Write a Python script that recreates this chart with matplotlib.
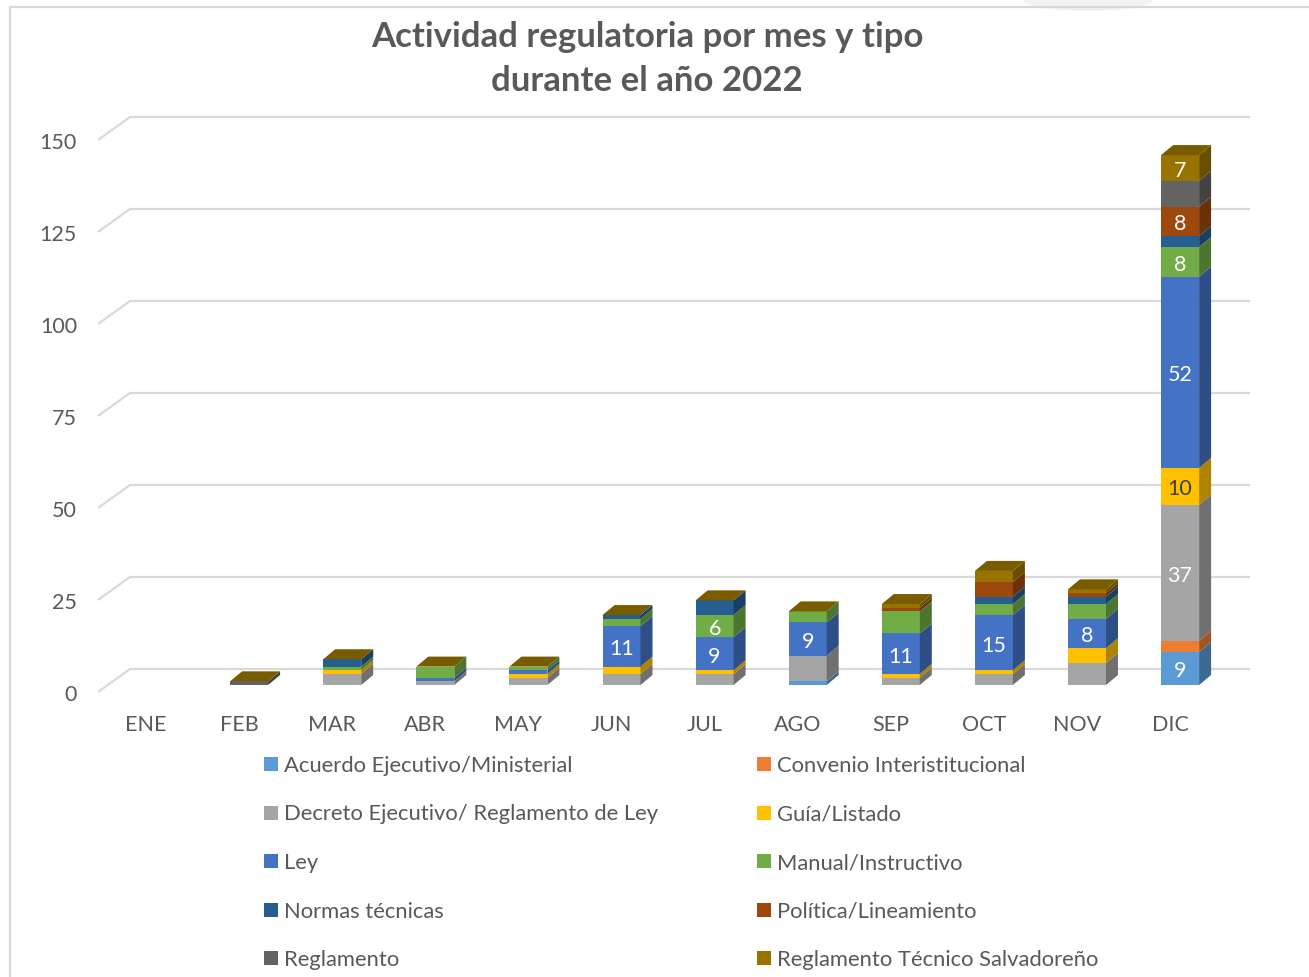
import numpy as np
import matplotlib.pyplot as plt
from matplotlib.patches import Polygon, Rectangle, Ellipse
from matplotlib.lines import Line2D
from matplotlib.colors import to_rgb

plt.rcParams['font.family'] = ['Lato', 'DejaVu Sans']

meses = ['ENE', 'FEB', 'MAR', 'ABR', 'MAY', 'JUN', 'JUL', 'AGO', 'SEP', 'OCT', 'NOV', 'DIC']

# valores por tipo
acuerdo    = [0, 0, 0, 0, 0, 0, 0, 1, 0, 0, 0, 9]
convenio   = [0, 0, 0, 0, 0, 0, 0, 0, 0, 0, 0, 3]
decreto    = [0, 0, 3, 1, 2, 3, 3, 7, 2, 3, 6, 37]
guia       = [0, 0, 1, 0, 1, 2, 1, 0, 1, 1, 4, 10]
ley        = [0, 0, 0, 1, 1, 11, 9, 9, 11, 15, 8, 52]
manual     = [0, 0, 1, 3, 1, 2, 6, 3, 6, 3, 4, 8]
normas     = [0, 0, 2, 0, 0, 1, 4, 0, 0, 2, 2, 3]
politica   = [0, 0, 0, 0, 0, 0, 0, 0, 1, 4, 1, 8]
reglamento = [0, 1, 0, 0, 0, 0, 0, 0, 0, 0, 0, 7]
rts        = [0, 0, 0, 0, 0, 0, 0, 0, 1, 3, 1, 7]

series = ['Acuerdo Ejecutivo/Ministerial', 'Convenio Interistitucional',
          'Decreto Ejecutivo/ Reglamento de Ley', 'Guía/Listado', 'Ley',
          'Manual/Instructivo', 'Normas técnicas', 'Política/Lineamiento',
          'Reglamento', 'Reglamento Técnico Salvadoreño']
valores = [acuerdo, convenio, decreto, guia, ley, manual, normas, politica, reglamento, rts]
colores = ['#5B9BD5', '#ED7D31', '#A5A5A5', '#FFC000', '#4472C4',
           '#70AD47', '#255E91', '#9E480E', '#636363', '#997300']

# etiquetas de datos visibles
etiquetas = {
    'Acuerdo Ejecutivo/Ministerial': ['DIC'],
    'Decreto Ejecutivo/ Reglamento de Ley': ['DIC'],
    'Guía/Listado': ['DIC'],
    'Ley': ['JUN', 'JUL', 'AGO', 'SEP', 'OCT', 'NOV', 'DIC'],
    'Manual/Instructivo': ['JUL', 'DIC'],
    'Política/Lineamiento': ['DIC'],
    'Reglamento Técnico Salvadoreño': ['DIC'],
}
ticks_y = [0, 25, 50, 75, 100, 125, 150]

W, H = 1309, 977
PX = 93.1   # pixeles por mes
PY = 3.68   # pixeles por unidad
X0, Y0 = 146, 692

def dark(c, f):
    r, g, b = to_rgb(c)
    return (r * f, g * f, b * f)

fig = plt.figure(figsize=(W / 100, H / 100), dpi=100)
ax = fig.add_axes([0, 0, 1, 1])
ax.set_xlim(-X0 / PX, (W - X0) / PX)
ax.set_ylim((Y0 - H) / PY, Y0 / PY)
ax.axis('off')

# borde del grafico (solo izquierda y arriba visibles)
fig.patches.append(Ellipse((1088 / W, 1.0), 130 / W, 22 / H, transform=fig.transFigure,
                           facecolor='#F2F2F2', lw=0))
fig.lines.append(Line2D([10 / W, 10 / W, 1.0], [0.0, 1 - 7 / H, 1 - 7 / H],
                        transform=fig.transFigure, color='#D9D9D9', lw=1.6))

# rejilla en pared trasera
gris = '#D9D9D9'
fdx, fdy = 32 / PX, 23 / PY
xl = (98 - X0) / PX
xr = (1250 - X0) / PX
for v in ticks_y:
    ax.plot([xl, xl + fdx, xr], [v, v + fdy, v + fdy], color=gris, lw=1.6,
            solid_capstyle='butt', zorder=1)
    ax.text(xl - 21 / PX, v - 3 / PY, str(v), ha='right', va='center', fontsize=15.5, color='#595959')

for i, m in enumerate(meses):
    ax.text(i, -33 / PY, m, ha='center', va='center', fontsize=15.5, color='#595959')

# barras 3D
bw = 38 / PX
off_x, off_y = 10 / PX, 7 / PY
ddx, ddy = 12 / PX, 10 / PY
x = np.arange(len(meses)) + off_x
totales = np.sum(valores, axis=0)
base = np.full(len(meses), off_y)
for s, vals, c in zip(series, valores, colores):
    vals = np.array(vals, dtype=float)
    ax.bar(x, vals, bw, bottom=base, color=c, linewidth=0, zorder=3)
    for i in range(len(meses)):
        if totales[i] == 0:
            continue
        xr_ = x[i] + bw / 2
        y0, y1 = base[i], base[i] + vals[i]
        if vals[i] > 0:
            ax.add_patch(Polygon([(xr_, y0), (xr_ + ddx, y0 + ddy), (xr_ + ddx, y1 + ddy), (xr_, y1)],
                                 closed=True, facecolor=dark(c, 0.68), lw=0, zorder=3))
        if meses[i] in etiquetas.get(s, []):
            tc = '#404040' if s == 'Guía/Listado' else 'white'
            ax.text(x[i], (y0 + y1) / 2 - 3 / PY, str(int(vals[i])), ha='center', va='center',
                    fontsize=15.5, color=tc, zorder=5)
    base = base + vals

# cara superior
for i in range(len(meses)):
    if totales[i] == 0:
        continue
    xl_, xr_ = x[i] - bw / 2, x[i] + bw / 2
    t = base[i]
    ax.add_patch(Polygon([(xl_, t), (xl_ + ddx, t + ddy), (xr_ + ddx, t + ddy), (xr_, t)],
                         closed=True, facecolor=dark(colores[-1], 0.8), lw=0, zorder=4))

# titulo
fig.text(647 / W, 1 - 59 / H, 'Actividad regulatoria por mes y tipo\ndurante el año 2022',
         ha='center', va='center', fontsize=25, fontweight='bold', color='#595959',
         linespacing=1.48)

# leyenda
for k, (s, c) in enumerate(zip(series, colores)):
    col, row = k % 2, k // 2
    sx = 264 if col == 0 else 757
    sy = 764 + 48.5 * row
    fig.patches.append(Rectangle((sx / W, 1 - (sy + 7) / H), 14 / W, 14 / H,
                                 transform=fig.transFigure, facecolor=c, lw=0))
    fig.text((sx + 20) / W, 1 - (sy + 2) / H, s, ha='left', va='center', fontsize=15.8, color='#595959')

fig.savefig('out.png', dpi=100)
